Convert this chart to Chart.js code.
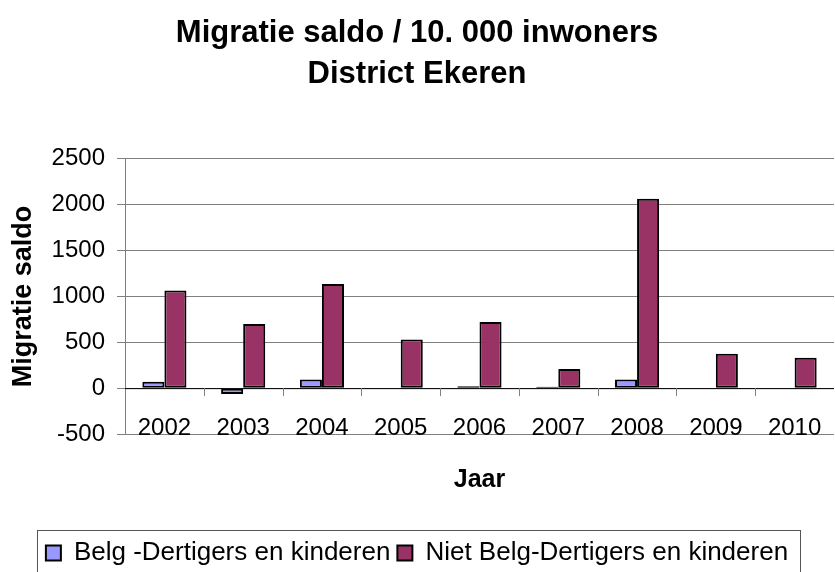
<!DOCTYPE html>
<html>
<head>
<meta charset="utf-8">
<script src="https://cdn.jsdelivr.net/npm/chart.js@4"></script>
<style>
  body { margin: 0; background: #fff; }
  #wrap { width: 835px; height: 572px; }
</style>
</head>
<body>
<div id="wrap"><canvas id="migratieChart"></canvas></div>
<script>
const years = ['2002', '2003', '2004', '2005', '2006', '2007', '2008', '2009', '2010'];
const belgValues = [70, -65, 95, 0, 20, 15, 95, 0, 0];
const nietBelgValues = [1065, 700, 1135, 530, 720, 210, 2065, 375, 330];
const titleLines = ['Migratie saldo / 10. 000 inwoners', 'District Ekeren'];

const Color = {
    Belg: '#9999FF',
    NietBelg: '#993366',
    Grid: '#808080',
};

Chart.defaults.font.family = "'Liberation Sans', Arial, sans-serif";
Chart.defaults.color = '#000';

// zero line + category tick marks hanging below it, and a frame round the legend
const axisExtras = {
    id: 'axisExtras',
    beforeDatasetsDraw(chart) {
        const ctx = chart.ctx;
        const x = chart.scales.x;
        const y0 = chart.scales.y.getPixelForValue(0);
        ctx.save();
        ctx.strokeStyle = '#000';
        ctx.lineWidth = 1;
        ctx.beginPath();
        ctx.moveTo(chart.chartArea.left, y0 + 0.5);
        ctx.lineTo(chart.chartArea.right, y0 + 0.5);
        ctx.stroke();
        ctx.strokeStyle = Color.Grid;
        ctx.beginPath();
        for (let i = 1; i < years.length; i++) {
            const px = Math.round((x.getPixelForValue(i - 1) + x.getPixelForValue(i)) / 2) + 0.5;
            ctx.moveTo(px, y0);
            ctx.lineTo(px, y0 + 8);
        }
        ctx.stroke();
        ctx.restore();
    },
    afterDraw(chart) {
        const boxes = chart.legend.legendHitBoxes;
        if (!boxes || !boxes.length) return;
        const first = boxes[0];
        const last = boxes[boxes.length - 1];
        const ctx = chart.ctx;
        ctx.save();
        ctx.strokeStyle = '#555';
        ctx.lineWidth = 1;
        const top = Math.round(first.top + first.height / 2 - 23) + 0.5;
        ctx.strokeRect(Math.round(first.left - 9) + 0.5, top,
            Math.round(last.left + last.width + 12 - first.left + 9), 80);
        ctx.restore();
    },
};

function getDataSetEntry(label, data, color) {
    return {
        label,
        data,
        backgroundColor: color,
        borderColor: '#000',
        borderWidth: 2,
        borderSkipped: false,
        categoryPercentage: 0.56,
        barPercentage: 1.0,
    };
}

new Chart(document.getElementById('migratieChart').getContext('2d'), {
    type: 'bar',
    data: {
        labels: years,
        datasets: [
            getDataSetEntry('Belg -Dertigers en kinderen', belgValues, Color.Belg),
            getDataSetEntry('Niet Belg-Dertigers en kinderen', nietBelgValues, Color.NietBelg),
        ],
    },
    options: {
        responsive: true,
        maintainAspectRatio: false,
        animation: false,
        layout: { padding: { left: 0, right: 1, top: 0, bottom: -4 } },
        plugins: {
            title: {
                display: true,
                text: titleLines,
                font: { size: 31, weight: 'bold', lineHeight: 1.32 },
                color: '#000',
                padding: { top: 13, bottom: 64 },
            },
            legend: {
                position: 'bottom',
                labels: {
                    font: { size: 26 },
                    color: '#000',
                    boxWidth: 15,
                    boxHeight: 15,
                    padding: 7,
                    generateLabels(chart) {
                        return chart.data.datasets.map((ds, i) => ({
                            text: ds.label,
                            fillStyle: ds.backgroundColor,
                            strokeStyle: '#000',
                            lineWidth: 2,
                            datasetIndex: i,
                        }));
                    },
                },
            },
            tooltip: { enabled: false },
        },
        scales: {
            x: {
                grid: { display: false, drawTicks: false },
                border: { display: false },
                // mirrored so the labels are not clipped to the axis box
                ticks: { font: { size: 24 }, color: '#000', mirror: true, padding: -9 },
                title: {
                    display: true,
                    text: 'Jaar',
                    font: { size: 25, weight: 'bold' },
                    color: '#000',
                    padding: { top: 16, bottom: 38 },
                },
                afterFit(scale) {
                    scale.height = 99;
                },
            },
            y: {
                min: -500,
                max: 2500,
                ticks: {
                    stepSize: 500,
                    font: { size: 24 },
                    color: '#000',
                    padding: 12,
                    callback: (v) => String(v),
                },
                grid: { color: Color.Grid, tickLength: 8 },
                border: { display: true, color: Color.Grid },
                title: {
                    display: true,
                    text: 'Migratie saldo',
                    font: { size: 27, weight: 'bold' },
                    color: '#000',
                    padding: { top: 7, bottom: 10 },
                },
                afterFit(scale) {
                    scale.width = 125;
                },
            },
        },
    },
    plugins: [axisExtras],
});
</script>
</body>
</html>
